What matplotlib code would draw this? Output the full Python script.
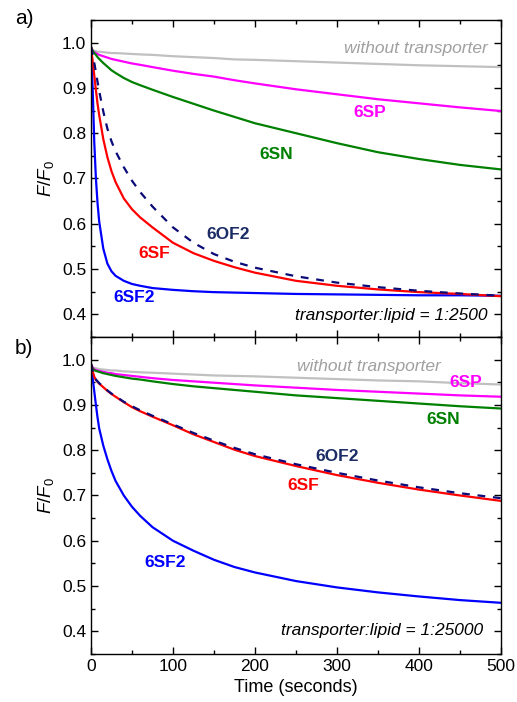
import matplotlib
matplotlib.use("Agg")
import matplotlib.pyplot as plt
from matplotlib.ticker import MultipleLocator

plt.rcParams['font.family'] = ['Liberation Sans', 'DejaVu Sans']
plt.rcParams['mathtext.fontset'] = 'custom'
plt.rcParams['mathtext.it'] = 'Liberation Sans:italic'
plt.rcParams['mathtext.rm'] = 'Liberation Sans'

# time points (seconds)
t = [0, 2, 4, 6, 8, 10, 15, 20, 25, 30, 40, 50, 60, 75, 100, 125, 150,
     175, 200, 250, 300, 350, 400, 450, 500]

# panel a) transporter:lipid = 1:2500
a_none = [0.99, 0.984, 0.982, 0.981, 0.980, 0.980, 0.979, 0.978, 0.977, 0.977,
          0.976, 0.975, 0.974, 0.973, 0.970, 0.968, 0.966, 0.963, 0.962, 0.959,
          0.956, 0.953, 0.950, 0.948, 0.946]
a_6sp = [0.99, 0.982, 0.979, 0.977, 0.975, 0.973, 0.970, 0.967, 0.964, 0.962,
         0.958, 0.954, 0.951, 0.946, 0.938, 0.931, 0.925, 0.917, 0.910, 0.897,
         0.886, 0.875, 0.866, 0.857, 0.849]
a_6sn = [0.99, 0.982, 0.977, 0.973, 0.968, 0.964, 0.955, 0.947, 0.939, 0.933,
         0.922, 0.913, 0.906, 0.896, 0.880, 0.865, 0.850, 0.836, 0.822, 0.800,
         0.778, 0.758, 0.743, 0.730, 0.720]
a_6of2 = [0.99, 0.975, 0.955, 0.935, 0.913, 0.893, 0.848, 0.810, 0.782, 0.760,
          0.725, 0.695, 0.670, 0.638, 0.592, 0.558, 0.533, 0.516, 0.503, 0.484,
          0.470, 0.460, 0.452, 0.446, 0.441]
a_6sf = [0.99, 0.960, 0.928, 0.895, 0.865, 0.840, 0.787, 0.747, 0.716, 0.692,
         0.656, 0.632, 0.614, 0.592, 0.558, 0.535, 0.518, 0.504, 0.492, 0.474,
         0.463, 0.455, 0.449, 0.445, 0.440]
a_6sf2 = [0.99, 0.90, 0.78, 0.70, 0.645, 0.605, 0.545, 0.512, 0.495, 0.485,
          0.474, 0.467, 0.463, 0.458, 0.454, 0.451, 0.449, 0.448, 0.447, 0.445,
          0.444, 0.443, 0.442, 0.442, 0.441]

# panel b) transporter:lipid = 1:25000
b_none = [0.99, 0.984, 0.982, 0.981, 0.980, 0.979, 0.978, 0.977, 0.976, 0.976,
          0.974, 0.973, 0.972, 0.971, 0.969, 0.967, 0.965, 0.964, 0.963, 0.960,
          0.957, 0.954, 0.952, 0.948, 0.945]
b_6sp = [0.99, 0.982, 0.979, 0.977, 0.976, 0.975, 0.973, 0.971, 0.970, 0.968,
         0.966, 0.964, 0.962, 0.959, 0.955, 0.952, 0.949, 0.946, 0.943, 0.938,
         0.933, 0.929, 0.925, 0.921, 0.918]
b_6sn = [0.99, 0.980, 0.977, 0.975, 0.974, 0.973, 0.970, 0.968, 0.966, 0.964,
         0.961, 0.958, 0.956, 0.952, 0.946, 0.941, 0.937, 0.933, 0.929, 0.921,
         0.915, 0.909, 0.903, 0.897, 0.892]
b_6of2 = [0.99, 0.975, 0.962, 0.956, 0.952, 0.948, 0.940, 0.932, 0.925, 0.919,
          0.907, 0.897, 0.888, 0.876, 0.857, 0.838, 0.821, 0.805, 0.791, 0.769,
          0.750, 0.733, 0.718, 0.705, 0.694]
b_6sf = [0.99, 0.975, 0.962, 0.955, 0.951, 0.947, 0.939, 0.931, 0.924, 0.918,
         0.906, 0.895, 0.886, 0.874, 0.855, 0.835, 0.818, 0.801, 0.787, 0.765,
         0.745, 0.728, 0.713, 0.700, 0.688]
b_6sf2 = [0.99, 0.96, 0.93, 0.90, 0.872, 0.848, 0.810, 0.780, 0.754, 0.732,
          0.700, 0.675, 0.655, 0.630, 0.600, 0.578, 0.558, 0.542, 0.530, 0.511,
          0.497, 0.486, 0.477, 0.469, 0.463]

c_none = '#c0c0c0'
c_sp = '#ff00ff'
c_sn = '#008000'
c_of2 = '#0a0a78'
c_sf = '#ff0000'
c_sf2 = '#0000ff'

fig = plt.figure(figsize=(5.17, 7.02), dpi=100)
ax1 = fig.add_axes([0.176, 0.520, 0.793, 0.4515])
ax2 = fig.add_axes([0.176, 0.0684, 0.793, 0.4516])

lw = 1.6


def draw(ax, none, sp, sn, of2, sf, sf2):
    ax.plot(t, none, color=c_none, lw=lw)
    ax.plot(t, sp, color=c_sp, lw=lw)
    ax.plot(t, sn, color=c_sn, lw=lw)
    ax.plot(t, sf2, color=c_sf2, lw=lw)
    ax.plot(t, sf, color=c_sf, lw=lw)
    ax.plot(t, of2, color=c_of2, lw=lw, dashes=(3.5, 3.5))
    ax.set_xlim(0, 500)
    ax.set_ylim(0.35, 1.05)
    ax.xaxis.set_major_locator(MultipleLocator(100))
    ax.xaxis.set_minor_locator(MultipleLocator(50))
    ax.yaxis.set_major_locator(MultipleLocator(0.1))
    ax.yaxis.set_minor_locator(MultipleLocator(0.05))
    ax.tick_params(which='both', direction='in', top=True, right=True,
                   labelsize=12.5, width=1)
    ax.tick_params(which='major', length=5)
    ax.tick_params(which='minor', length=3)
    for s in ax.spines.values():
        s.set_linewidth(1)
    ax.set_ylabel(r'$\mathit{F/F_0}$', fontsize=13.5, labelpad=4)


draw(ax1, a_none, a_6sp, a_6sn, a_6of2, a_6sf, a_6sf2)
draw(ax2, b_none, b_6sp, b_6sn, b_6of2, b_6sf, b_6sf2)
ax1.tick_params(labelbottom=False)
ax2.set_xlabel('Time (seconds)', fontsize=13)

lab = dict(fontsize=12.5, fontweight='bold', ha='center', va='center')
it = dict(fontsize=12.5, style='italic', ha='right', va='center')

ax1.text(484, 0.987, 'without transporter', color='#a0a0a0', **it)
ax1.text(340, 0.845, '6SP', color=c_sp, **lab)
ax1.text(226, 0.752, '6SN', color=c_sn, **lab)
ax1.text(167, 0.577, '6OF2', color='#1c2d66', **lab)
ax1.text(77, 0.535, '6SF', color=c_sf, **lab)
ax1.text(52, 0.438, '6SF2', color=c_sf2, **lab)
ax1.text(484, 0.398, 'transporter:lipid = 1:2500', color='black', **it)

ax2.text(426, 0.985, 'without transporter', color='#a0a0a0', **it)
ax2.text(457, 0.950, '6SP', color=c_sp, **lab)
ax2.text(430, 0.868, '6SN', color=c_sn, **lab)
ax2.text(300, 0.785, '6OF2', color='#1c2d66', **lab)
ax2.text(259, 0.722, '6SF', color=c_sf, **lab)
ax2.text(91, 0.551, '6SF2', color=c_sf2, **lab)
ax2.text(478, 0.402, 'transporter:lipid = 1:25000', color='black', **it)

fig.text(24 / 517, 1 - 18 / 702, 'a)', fontsize=15, ha='center', va='center')
fig.text(24 / 517, 1 - 349 / 702, 'b)', fontsize=15, ha='center', va='center')

fig.savefig('out.png', dpi=100)
